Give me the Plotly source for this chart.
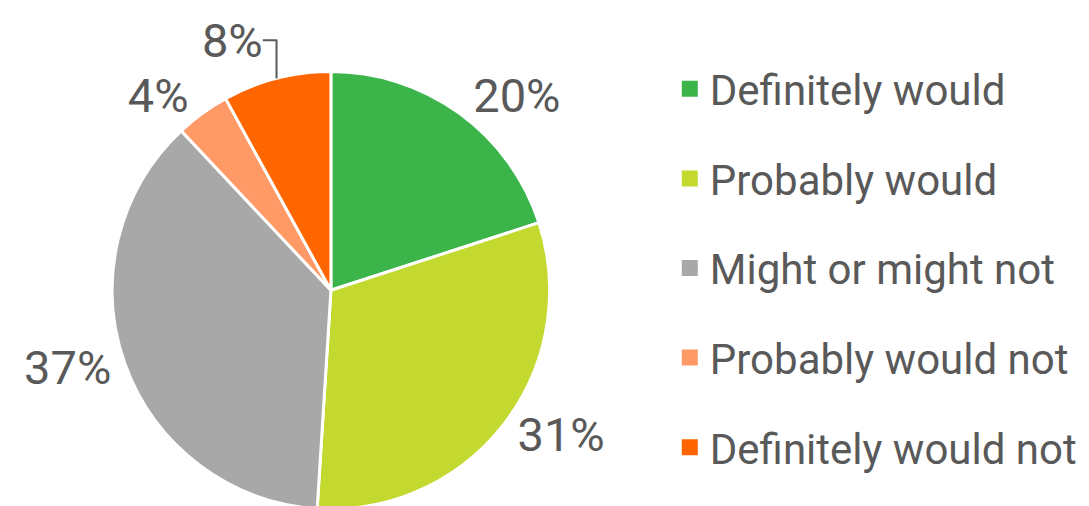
import plotly.graph_objects as go

categories = ["Definitely would", "Probably would", "Might or might not", "Probably would not", "Definitely would not"]
values = [20, 31, 37, 4, 8]
colors = ["#3BB54A", "#C3D92F", "#A8A8A8", "#FF9966", "#FF6600"]

fig = go.Figure()
fig.add_trace(go.Pie(
    labels=categories, values=values, sort=False, direction="clockwise", rotation=0,
    marker=dict(colors=colors, line=dict(color="white", width=3)),
    textinfo="percent", texttemplate="%{percent:.0%}", textposition="outside",
    outsidetextfont=dict(size=47, color="#595959", family="Roboto"),
    showlegend=False, hoverinfo="label+percent",
    domain=dict(x=[0.095, 0.815], y=[0.0, 0.9076]),
))
for i, (c, col) in enumerate(zip(categories, colors)):
    fig.add_trace(go.Scatter(
        x=[None], y=[None], mode="markers", name=c, legendgroup=f"g{i}",
        marker=dict(symbol="square", size=16, color=col),
    ))

fig.update_layout(
    width=1089, height=506, margin=dict(l=0, r=0, t=0, b=0),
    paper_bgcolor="white", plot_bgcolor="white",
    font=dict(family="Roboto", color="#595959"),
    xaxis=dict(visible=False), yaxis=dict(visible=False),
    legend=dict(xref="container", yref="container",
                x=0.6077, y=0.4862, xanchor="left", yanchor="middle",
                maxheight=800,
                font=dict(size=42, color="#595959", family="Roboto"),
                tracegroupgap=32, bgcolor="rgba(0,0,0,0)"),
)
fig.write_html("out.html")
